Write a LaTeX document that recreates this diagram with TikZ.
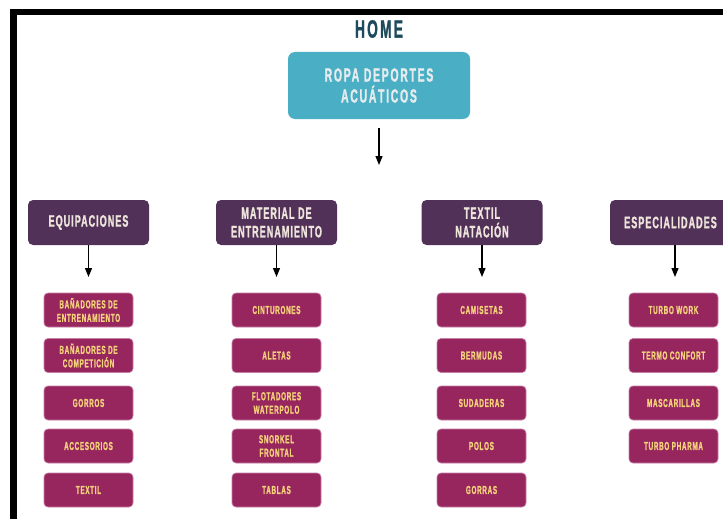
\documentclass[tikz,border=0pt]{standalone}
\usepackage{fontspec}
\usetikzlibrary{arrows.meta}
\newfontfamily\bebas[FakeStretch=0.55]{Liberation Sans}
\newfontfamily\bebasb[FakeStretch=0.55,FakeBold=1.2]{Liberation Sans}
\definecolor{homecol}{HTML}{1D4A5C}
\definecolor{topfill}{HTML}{4AAFC5}
\definecolor{toptext}{HTML}{E6ECEE}
\definecolor{catfill}{HTML}{523158}
\definecolor{cattext}{HTML}{EDE5DC}
\definecolor{itemfill}{HTML}{97265F}
\definecolor{itemdraw}{HTML}{C77FA6}
\definecolor{itemtext}{HTML}{F3D27A}
\tikzset{
  hometext/.style={font=\bebasb\bfseries\addfontfeatures{LetterSpace=9}\fontsize{25}{27}\selectfont, text=homecol},
  topbox/.style={rounded corners=7pt, fill=topfill, text=toptext, minimum width=182pt, minimum height=67pt, align=center, inner sep=0pt,
     font=\bebasb\bfseries\addfontfeatures{LetterSpace=9}\fontsize{19}{21}\selectfont},
  catbox/.style={rounded corners=5pt, fill=catfill, text=cattext, minimum width=121pt, minimum height=45pt, align=center, inner sep=0pt,
     font=\bebasb\bfseries\addfontfeatures{LetterSpace=6}\fontsize{16.5}{18.5}\selectfont},
  itembox/.style={rounded corners=4pt, fill=itemfill, draw=itemdraw, line width=0.7pt, text=itemtext, minimum width=89pt, minimum height=34pt, align=center, inner sep=0pt,
     font=\bebasb\bfseries\addfontfeatures{LetterSpace=6}\fontsize{11.5}{13.5}\selectfont},
  arr/.style={line width=1.2pt, -{Triangle[length=9pt,width=7pt]}}
}
\begin{document}
\begin{tikzpicture}[x=1pt,y=-1pt]
\useasboundingbox (0,0) rectangle (723,519);
\clip (0,0) rectangle (723,519);
\draw[line width=6.5pt] (13.5,530) -- (13.5,12) -- (740,12);
\node[hometext] (home) at (379,29) {HOME};
\node[topbox] (top) at (379,85.5) {ROPA DEPORTES\\ACUÁTICOS};
\coordinate (t0) at (379,165);
\draw[arr, shorten <=9pt] (top.south) -- (t0);
% categories
\node[catbox] (c1) at (88.5,222.5) {EQUIPACIONES};
\node[catbox] (c2) at (276.5,222.5) {MATERIAL DE\\ENTRENAMIENTO};
\node[catbox] (c3) at (482,222.5) {TEXTIL\\NATACIÓN};
\node[catbox] (c4) at (670.5,222.5) {ESPECIALIDADES};
\coordinate (e1) at (88.5,277);
\coordinate (e2) at (276.5,277);
\coordinate (e3) at (482,277);
\coordinate (e4) at (675,277);
\draw[arr] (c1.south) -- (e1);
\draw[arr] (c2.south) -- (e2);
\draw[arr] (c3.south) -- (e3);
\draw[arr] (c4.south -| e4) -- (e4);
% column 1
\node[itembox] (a1) at (88.5,310) {BAÑADORES DE\\ENTRENAMIENTO};
\node[itembox] (a2) at (88.5,355.5) {BAÑADORES DE\\COMPETICIÓN};
\node[itembox] (a3) at (88.5,403) {GORROS};
\node[itembox] (a4) at (88.5,446) {ACCESORIOS};
\node[itembox] (a5) at (88.5,490) {TEXTIL};
% column 2
\node[itembox] (b1) at (276.5,310) {CINTURONES};
\node[itembox] (b2) at (276.5,355.5) {ALETAS};
\node[itembox] (b3) at (276.5,403) {FLOTADORES\\WATERPOLO};
\node[itembox] (b4) at (276.5,446) {SNORKEL\\FRONTAL};
\node[itembox] (b5) at (276.5,490) {TABLAS};
% column 3
\node[itembox] (d1) at (481.5,310) {CAMISETAS};
\node[itembox] (d2) at (481.5,355.5) {BERMUDAS};
\node[itembox] (d3) at (481.5,403) {SUDADERAS};
\node[itembox] (d4) at (481.5,446) {POLOS};
\node[itembox] (d5) at (481.5,490) {GORRAS};
% column 4
\node[itembox] (f1) at (673.5,310) {TURBO WORK};
\node[itembox] (f2) at (673.5,355.5) {TERMO CONFORT};
\node[itembox] (f3) at (673.5,403) {MASCARILLAS};
\node[itembox] (f4) at (673.5,446) {TURBO PHARMA};
\end{tikzpicture}
\end{document}
